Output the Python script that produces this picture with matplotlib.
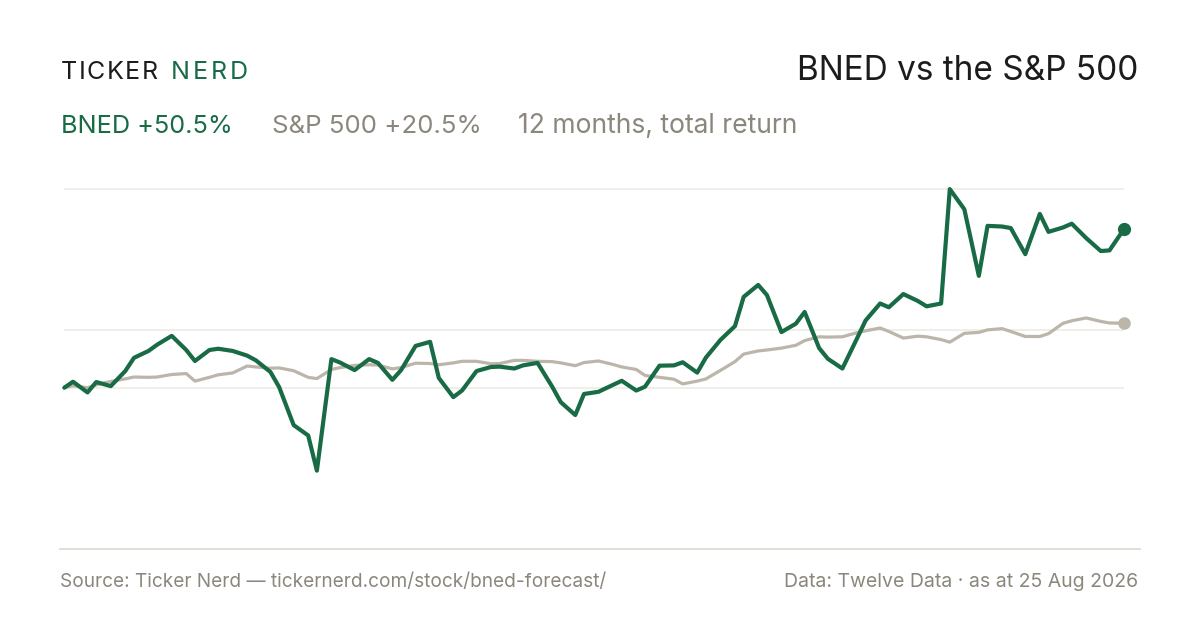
import matplotlib
matplotlib.use('Agg')
import matplotlib.pyplot as plt
from matplotlib.lines import Line2D
import numpy as np
import pandas as pd

# every third trading day, 25 Aug 2025 -> 25 Aug 2026
dates = pd.bdate_range('2025-08-25', '2026-08-25', freq='3B')

# cumulative total return, %
bned = [
    0.0, 1.9, -1.5, 1.8, 0.5, 5.3, 9.5, 11.7, 13.7, 16.5,
    12.0, 8.5, 12.0, 12.4, 11.7, 10.2, 8.7, 5.0, 0.2, -11.9,
    -15.2, -26.4, 9.1, 8.0, 5.6, 9.1, 7.9, 2.5, 5.6, 13.3,
    14.6, 3.1, -3.0, -0.9, 5.3, 6.6, 6.7, 6.1, 7.1, 7.9,
    0.4, -4.6, -8.7, -2.0, -1.3, 0.9, 2.2, -0.9, 0.3, 7.0,
    7.1, 8.1, 4.8, 9.6, 15.2, 19.6, 28.9, 32.7, 29.5, 17.7,
    20.4, 24.1, 12.6, 9.2, 6.1, 15.6, 21.4, 26.8, 25.6, 29.8,
    27.6, 25.9, 26.8, 63.2, 56.8, 35.6, 51.5, 51.3, 50.8, 42.5,
    55.3, 49.6, 51.0, 52.2, 47.6, 43.5, 43.7, 50.5,
]
spx = [
    0.0, 0.6, 0.0, 0.9, 2.0, 2.8, 3.4, 3.3, 3.4, 4.2,
    4.5, 2.1, 3.3, 4.1, 4.7, 6.9, 6.6, 6.2, 6.3, 5.4,
    3.3, 2.9, 5.8, 6.4, 7.1, 7.3, 7.2, 6.0, 6.4, 7.8,
    7.7, 7.3, 7.9, 8.4, 8.4, 7.6, 7.7, 8.7, 8.7, 8.4,
    8.3, 7.9, 7.0, 8.0, 8.5, 7.4, 6.6, 5.8, 3.9, 3.3,
    2.7, 1.2, 2.1, 2.8, 5.5, 8.3, 10.7, 11.7, 12.0, 12.6,
    13.5, 15.0, 16.2, 16.1, 16.2, 17.5, 18.1, 19.0, 17.9, 15.8,
    16.4, 16.2, 15.3, 14.5, 17.3, 17.6, 18.4, 18.8, 17.9, 16.3,
    16.3, 17.2, 20.5, 21.3, 22.2, 21.1, 20.6, 20.5,
]
assert len(dates) == len(bned) == len(spx)

GREEN = '#186b45'
SAND = '#bcb5aa'
GREY_TEXT = '#8b877c'
INK = '#1c1c1c'
W, H = 1200, 630

plt.rcParams['font.family'] = ['Inter', 'DejaVu Sans']

fig = plt.figure(figsize=(W / 100, H / 100), dpi=100)
fig.patch.set_facecolor('white')
renderer = fig.canvas.get_renderer()


def px_text(x, base, s, width=None, size=20, ha='left', **kw):
    t = fig.text(x / W, 1 - base / H, s, ha=ha, va='baseline', fontsize=size, **kw)
    if width:
        w = t.get_window_extent(renderer).width
        t.set_fontsize(size * width / w)
    return t


def tracked(x0, x1, base, s, size, color):
    # letter-spaced wordmark, stretched between x0 and x1
    parts = [fig.text(0, 0, ch, fontsize=size, color=color, va='baseline') for ch in s]
    widths = [p.get_window_extent(renderer).width for p in parts]
    gap = (x1 - x0 - sum(widths)) / max(len(s) - 1, 1)
    x = x0
    for p, w in zip(parts, widths):
        p.set_position((x / W, 1 - base / H))
        x += w + gap


# chart area: 0% sits at y=387.7px, 3.142 px per percentage point
top_px, bot_px, zero_px, scale = 180, 548, 387.7, 3.142
ax = fig.add_axes([64.3 / W, 1 - bot_px / H, (1124 - 64.3) / W, (bot_px - top_px) / H])
ax.set_ylim(-(bot_px - zero_px) / scale, (zero_px - top_px) / scale)
ax.set_xlim(dates[0], dates[-1])
ax.axis('off')

hi, lo = max(bned), min(bned)
for level in (0, (hi + lo) / 2, hi):
    ax.axhline(level, color='#ece9e3', lw=1.1, zorder=0)

ax.plot(dates, spx, color=SAND, lw=2.3, solid_joinstyle='round', solid_capstyle='round',
        clip_on=False, zorder=2)
ax.plot(dates, bned, color=GREEN, lw=3.0, solid_joinstyle='round', solid_capstyle='round',
        clip_on=False, zorder=3)
ax.plot(dates[-1], spx[-1], 'o', ms=8.0, color=SAND, clip_on=False, zorder=2)
ax.plot(dates[-1], bned[-1], 'o', ms=8.5, color=GREEN, clip_on=False, zorder=4)

fig.add_artist(Line2D([60 / W, 1140 / W], [1 - 549 / H] * 2, color='#dcd8cf', lw=1.2))

# header
tracked(60.7, 158, 79, 'TICKER', 18, INK)
tracked(170.7, 248, 79, 'NERD', 18, GREEN)
px_text(1138, 80, 'BNED vs the S&P 500', width=342, ha='right', color=INK)

px_text(61, 133, f'BNED +{bned[-1]:.1f}%', width=172, color=GREEN)
px_text(272, 133, f'S&P 500 +{spx[-1]:.1f}%', width=210, color=GREY_TEXT)
px_text(518, 133, '12 months, total return', width=280, color=GREY_TEXT)

# footer
px_text(60, 587, 'Source: Ticker Nerd \u2014 tickernerd.com/stock/bned-forecast/', width=545,
        color=GREY_TEXT)
px_text(1138, 587, 'Data: Twelve Data \u00b7 as at 25 Aug 2026', width=354, ha='right',
        color=GREY_TEXT)

fig.savefig('out.png', dpi=100, facecolor='white')
